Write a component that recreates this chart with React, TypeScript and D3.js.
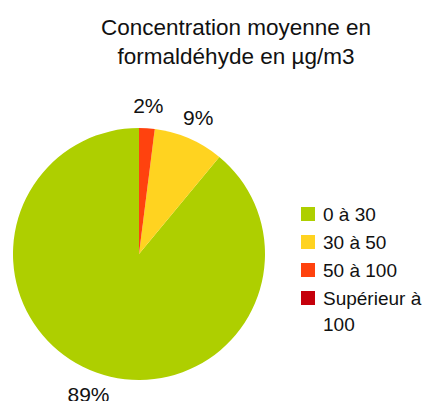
import React, { useRef, useEffect } from 'react';
import * as d3 from 'd3';

const titleLines = ['Concentration moyenne en', 'formaldéhyde en µg/m3'];
const categories = ['0 à 30', '30 à 50', '50 à 100', 'Supérieur à 100'];
const values = [89, 9, 2, 0];
const colors = ['#aecf00', '#ffd320', '#ff420e', '#c5000b'];
const legendLines = [['0 à 30'], ['30 à 50'], ['50 à 100'], ['Supérieur à', '100']];

const App = () => {
  const svgRef = useRef<SVGSVGElement>(null);

  useEffect(() => {
    const svg = d3.select(svgRef.current);
    svg.selectAll('*').remove();
    const width = 426;
    const height = 401;
    const cx = 139;
    const cy = 254;
    const radius = 126;
    const font = '"Liberation Sans", Arial, sans-serif';

    svg.append('rect').attr('width', width).attr('height', height).attr('fill', '#fff');

    // title
    svg.append('g')
      .selectAll('text')
      .data(titleLines)
      .enter()
      .append('text')
      .attr('x', 236)
      .attr('y', (d, i) => 35 + i * 29)
      .attr('text-anchor', 'middle')
      .attr('font-family', font)
      .attr('font-size', 22.5)
      .attr('fill', '#111')
      .text(d => d);

    const data = categories.map((c, i) => ({ c, v: values[i], color: colors[i] }));
    const pie = d3.pie<any>()
      .sort(null)
      .value(d => d.v)
      .startAngle(2 * Math.PI)
      .endAngle(0);
    const arcs = pie(data);
    const arc = d3.arc<any>().innerRadius(0).outerRadius(radius);
    const labelArc = d3.arc<any>().innerRadius(149).outerRadius(149);

    const g = svg.append('g').attr('transform', `translate(${cx},${cy})`);
    g.selectAll('path')
      .data(arcs.filter(a => a.data.v > 0))
      .enter()
      .append('path')
      .attr('d', arc)
      .attr('fill', d => d.data.color);

    g.selectAll('text')
      .data(arcs.filter(a => a.data.v > 0))
      .enter()
      .append('text')
      .attr('transform', d => `translate(${labelArc.centroid(d)})`)
      .attr('text-anchor', 'middle')
      .attr('dy', '0.36em')
      .attr('font-family', font)
      .attr('font-size', 21)
      .attr('fill', '#111')
      .text(d => `${d.data.v}%`);

    // legend
    const legend = svg.append('g').attr('transform', 'translate(301,0)');
    const rowBase = [221, 249, 277, 305];
    data.forEach((d, i) => {
      legend.append('rect')
        .attr('x', 0)
        .attr('y', rowBase[i] - 14)
        .attr('width', 14)
        .attr('height', 14)
        .attr('fill', d.color);
      legendLines[i].forEach((line, j) => {
        legend.append('text')
          .attr('x', 22)
          .attr('y', rowBase[i] + j * 26)
          .attr('font-family', font)
          .attr('font-size', 19)
          .attr('fill', '#111')
          .text(line);
      });
    });
  }, []);

  return (
    <svg ref={svgRef} width="426" height="401" style={{ position: 'absolute', left: 0, top: 0 }}></svg>
  );
};

export default App;
